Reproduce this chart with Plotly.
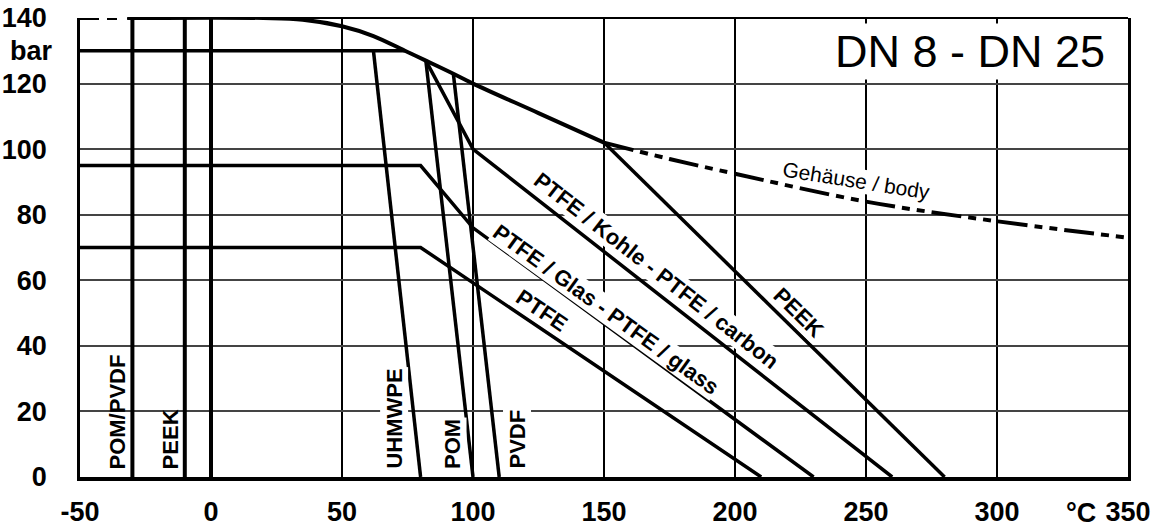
import plotly.graph_objects as go

# ---------------- data ----------------
x_ticks = [-50, 0, 50, 100, 150, 200, 250, 300, 350]
y_ticks = [0, 20, 40, 60, 80, 100, 120, 140]

body_T = [-32, 20, 35, 50, 62, 74, 82, 92.5, 100, 125, 150]
body_P = [140, 140, 139.5, 137.5, 134.5, 130, 127, 123, 120, 111, 102]
body_low_T = [-50, -32]
body_low_P = [140, 140]
body_ext_T = [150, 175, 200, 250, 300, 350]
body_ext_P = [102, 97, 92.5, 84, 78, 73]

limit130_T = [-50, 74]
limit130_P = [130, 130]
uhmwpe_T = [62, 80]
uhmwpe_P = [130, 0]
pom_T = [82, 100]
pom_P = [127, 0]
pvdf_T = [92.5, 110]
pvdf_P = [123, 0]
kohle_T = [82, 100, 260]
kohle_P = [127, 100, 0]
glas_T = [-50, 80, 100, 230]
glas_P = [95, 95, 76, 0]
ptfe_T = [-50, 80, 210]
ptfe_P = [70, 70, 0]
peek_T = [150, 280]
peek_P = [102, 0]

min_temps = [-30, -10, 0]          # minimum temperature lines
min_range_P = [0, 140]

vert_labels = ["POM/PVDF", "PEEK", "UHMWPE", "POM", "PVDF"]
vert_label_T = [-35.5, -15.5, 69.7, 92, 116.8]
vert_label_bg = [False, False, True, True, True]

diag_labels = ["PTFE / Kohle - PTFE / carbon", "PTFE / Glas - PTFE / glass", "PTFE", "PEEK"]
diag_label_T = [169.9, 150.8, 126.3, 224.3]
diag_label_P = [63.1, 51.2, 50.9, 50.3]
diag_label_angle = [38, 36, 34, 44.5]

FONT = "Liberation Sans, Arial, sans-serif"
DASH = "30px,7px,8px,7px,8px,7px"
DASH_LOW = "19px,8px,10px,10px"

fig = go.Figure()

def line(T, P, width=3.5, dash="solid", shape="linear"):
    fig.add_trace(go.Scatter(x=T, y=P, mode="lines",
                             line=dict(color="black", width=width, dash=dash, shape=shape,
                                       smoothing=1 if shape == "spline" else None),
                             hoverinfo="skip", showlegend=False))

for t in min_temps:
    line([t, t], min_range_P, width=4)

line(limit130_T, limit130_P)
line(uhmwpe_T, uhmwpe_P)
line(pom_T, pom_P)
line(pvdf_T, pvdf_P)
line(kohle_T, kohle_P)
line(glas_T, glas_P)
line(ptfe_T, ptfe_P)
line(peek_T, peek_P)
line(body_T, body_P, width=4, shape="spline")
line(body_low_T, body_low_P, width=4, dash=DASH_LOW)
line(body_ext_T, body_ext_P, width=4, dash=DASH, shape="spline")

ann = []
for txt, t, bg in zip(vert_labels, vert_label_T, vert_label_bg):
    ann.append(dict(x=t, y=0, xref="x", yref="y", text=txt, showarrow=False,
                    textangle=-90, yanchor="bottom", xanchor="center", yshift=6,
                    bgcolor="white" if bg else "rgba(0,0,0,0)", borderpad=1,
                    font=dict(family=FONT, size=22, color="black", weight="bold")))
for txt, t, p, a in zip(diag_labels, diag_label_T, diag_label_P, diag_label_angle):
    ann.append(dict(x=t, y=p, xref="x", yref="y", text=txt, showarrow=False,
                    textangle=a, bgcolor="white", borderpad=0,
                    font=dict(family=FONT, size=22, color="black", weight="bold")))
ann.append(dict(x=246.2, y=90.5, xref="x", yref="y", text="Gehäuse / body", showarrow=False,
                textangle=9, bgcolor="white", borderpad=0,
                font=dict(family=FONT, size=21, color="black")))
ann.append(dict(x=342.4, y=129.9, xref="x", yref="y", text="DN 8 - DN 25", showarrow=False,
                xanchor="right", bgcolor="white", borderpad=2,
                font=dict(family=FONT, size=45, color="black")))
ann.append(dict(x=0, y=130, xref="paper", yref="y", text="bar", showarrow=False,
                xanchor="right", xshift=-25,
                font=dict(family=FONT, size=27, color="black", weight="bold")))
ann.append(dict(x=332, y=0, xref="x", yref="paper", text="°C", showarrow=False,
                yanchor="top", yshift=-19,
                font=dict(family=FONT, size=27, color="black", weight="bold")))

fig.update_layout(
    width=1165, height=529,
    margin=dict(l=80, r=37, t=18, b=52),
    paper_bgcolor="white", plot_bgcolor="white",
    annotations=ann,
    shapes=[dict(type="line", xref="x", yref="paper", x0=-32, x1=350, y0=1, y1=1,
                 line=dict(color="black", width=2))],
)
fig.update_xaxes(range=[-50, 350], tickvals=x_ticks, ticktext=[str(v) for v in x_ticks],
                 showgrid=True, gridcolor="black", gridwidth=1.5, automargin=False,
                 showline=True, linecolor="black", linewidth=4, mirror=False,
                 zeroline=False, ticks="", ticklabelstandoff=8,
                 tickfont=dict(family=FONT, size=27, color="black", weight="bold"))
fig.update_yaxes(range=[0, 140], tickvals=y_ticks, ticktext=[str(v) for v in y_ticks],
                 showgrid=True, gridcolor="#444", gridwidth=1.5, automargin=False,
                 showline=True, linecolor="black", linewidth=2.5, mirror=True,
                 zeroline=False, ticks="", ticklabelstandoff=25,
                 tickfont=dict(family=FONT, size=27, color="black", weight="bold"))

fig.write_html("out.html", config={"displayModeBar": False},
               post_script="document.body.style.margin='0';")
